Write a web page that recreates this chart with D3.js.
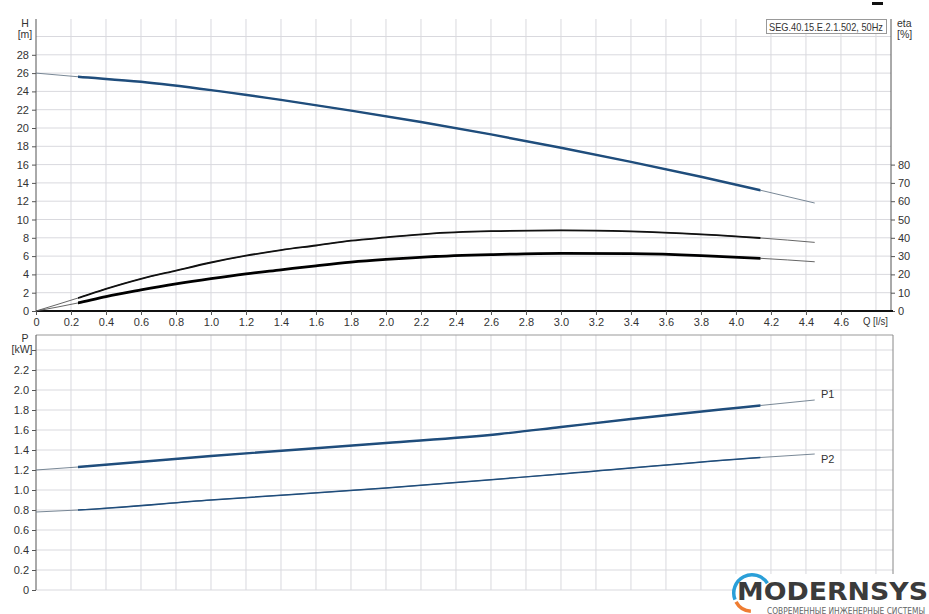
<!DOCTYPE html>
<html><head><meta charset="utf-8">
<script src="https://cdn.jsdelivr.net/npm/d3@7/dist/d3.min.js"></script>
<style>
body{margin:0;background:#fff;}
svg{display:block;font-family:"Liberation Sans",Arial,sans-serif;}
</style></head>
<body>
<svg id="c" width="929" height="614"></svg>
<script>
// ---- data ----
const qTicks = [0,0.2,0.4,0.6,0.8,1.0,1.2,1.4,1.6,1.8,2.0,2.2,2.4,2.6,2.8,3.0,3.2,3.4,3.6,3.8,4.0,4.2,4.4,4.6];
const hTicks = [0,2,4,6,8,10,12,14,16,18,20,22,24,26,28];
const etaTicks = [0,10,20,30,40,50,60,70,80];
const pTicks = [0,0.2,0.4,0.6,0.8,1.0,1.2,1.4,1.6,1.8,2.0,2.2];

const qH   = [0, 0.24, 0.6, 1.0, 1.4, 1.8, 2.2, 2.6, 3.0, 3.4, 3.8, 4.14, 4.45];
const hVal = [26.0, 25.6, 25.05, 24.14, 23.07, 21.9, 20.66, 19.3, 17.84, 16.3, 14.67, 13.2, 11.8];

const qEta  = [0, 0.24, 0.4, 0.6, 0.8, 1.0, 1.2, 1.4, 1.6, 1.8, 2.0, 2.24, 2.6, 3.0, 3.4, 3.8, 4.14, 4.45];
const eta1  = [0, 7.1, 12.1, 17.6, 22.1, 26.5, 30.2, 33.3, 35.8, 38.4, 40.2, 42.2, 43.6, 44.1, 43.5, 41.9, 39.9, 37.5];
const eta2  = [0, 4.4, 7.9, 11.5, 14.8, 17.7, 20.3, 22.5, 24.7, 26.7, 28.2, 29.6, 30.8, 31.5, 31.3, 30.3, 28.8, 26.9];

const qP1  = [0, 0.24, 1.0, 2.0, 2.65, 3.0, 3.4, 4.0, 4.14, 4.45];
const p1   = [1.20, 1.23, 1.34, 1.47, 1.56, 1.63, 1.71, 1.82, 1.845, 1.90];
const qP2  = [0, 0.24, 1.0, 2.0, 3.0, 4.14, 4.45];
const p2   = [0.78, 0.80, 0.90, 1.02, 1.16, 1.325, 1.36];

const qDutyMin = 0.24, qDutyMax = 4.14;
const title = "SEG.40.15.E.2.1.502, 50Hz";

// ---- layout ----
const svg = d3.select("#c");
const X0 = 36, XR = 891;
const x = d3.scaleLinear().domain([0, 4.886]).range([X0, XR]);
const yH = d3.scaleLinear().domain([0, 32]).range([311, 18.2]);
const yEta = d3.scaleLinear().domain([0, 160]).range([311, 18.2]);
const yP = d3.scaleLinear().domain([0, 2.55]).range([590, 335]);

const gridC = "#d9d9de", txtC = "#333", blue = "#1f4d7c";
const fs = "11px";

// top grid
const gTop = svg.append("g");
const gridQ = qTicks.concat([4.8]);
gTop.selectAll(".vg").data(gridQ.slice(1)).join("line")
  .attr("x1", d=>x(d)).attr("x2", d=>x(d)).attr("y1", 19).attr("y2", 311)
  .attr("stroke", gridC).attr("stroke-width", 1);
gTop.selectAll(".hg").data(hTicks.slice(1).concat([30])).join("line")
  .attr("x1", X0).attr("x2", XR).attr("y1", d=>yH(d)).attr("y2", d=>yH(d))
  .attr("stroke", gridC).attr("stroke-width", 1);

// bottom grid
const gBot = svg.append("g");
gBot.selectAll(".vg").data(gridQ.slice(1)).join("line")
  .attr("x1", d=>x(d)).attr("x2", d=>x(d)).attr("y1", 335).attr("y2", 590)
  .attr("stroke", gridC);
gBot.selectAll(".hg").data(pTicks.concat([2.4])).join("line")
  .attr("x1", X0).attr("x2", XR+2).attr("y1", d=>yP(d)).attr("y2", d=>yP(d))
  .attr("stroke", gridC);
gBot.append("line").attr("x1", X0).attr("x2", XR+2).attr("y1", 335).attr("y2", 335).attr("stroke", "#999");
gBot.append("line").attr("x1", XR+2).attr("x2", XR+2).attr("y1", 335).attr("y2", 590).attr("stroke", "#888");

// axes top
const axL = d3.axisLeft(yH).tickValues(hTicks).tickSize(4).tickFormat(d3.format("d"));
const gL = svg.append("g").attr("transform", `translate(${X0},0)`).call(axL);
gL.select(".domain").attr("d", `M-0,19V311`).attr("stroke", "#555");
const axR = d3.axisRight(yEta).tickValues(etaTicks).tickSize(4).tickFormat(d3.format("d"));
const gR = svg.append("g").attr("transform", `translate(${XR},0)`).call(axR);
gR.select(".domain").attr("d", `M0,19V311`).attr("stroke", "#555");
const axB = d3.axisBottom(x).tickValues(qTicks).tickSize(4)
  .tickFormat(d => d===0 ? "0" : d3.format(".1f")(d));
const gB = svg.append("g").attr("transform", `translate(0,311)`).call(axB);
gB.select(".domain").attr("d", `M${X0},0H${XR+2}`).attr("stroke", "#111").attr("stroke-width", 2);

// axes bottom chart
const axP = d3.axisLeft(yP).tickValues(pTicks.concat([2.4])).tickSize(4)
  .tickFormat(d => d===0 ? "0" : (d===2.4 ? "" : d3.format(".1f")(d)));
const gP = svg.append("g").attr("transform", `translate(${X0},0)`).call(axP);
gP.select(".domain").attr("d", `M0,335V590`).attr("stroke", "#555");

svg.selectAll(".tick text").attr("font-size", fs).attr("fill", txtC)
  .attr("font-family", "'Liberation Sans',Arial,sans-serif");
svg.selectAll(".tick line").attr("stroke", "#555");

// axis titles
function label(t, xx, yy, anchor, size){
  return svg.append("text").attr("x", xx).attr("y", yy).attr("text-anchor", anchor||"middle")
    .attr("font-size", size||fs).attr("fill", txtC).text(t);
}
label("H", 25, 26.5, "middle", "10.5px"); label("[m]", 25, 38, "middle", "10.5px");
label("eta", 897, 26.5, "start", "10.5px"); label("[%]", 897, 38, "start", "10.5px");
label("P", 25, 341.5, "middle", "10.5px"); label("[kW]", 22, 353, "middle", "10.5px");
label("Q [l/s]", 863, 325, "start").attr("textLength", 25).attr("lengthAdjust", "spacingAndGlyphs");

// title box
svg.append("rect").attr("x", 766.5).attr("y", 19.5).attr("width", 120).attr("height", 14)
  .attr("fill", "#fff").attr("stroke", "#999");
svg.append("text").attr("x", 769).attr("y", 30.5).attr("font-size", "10.5px").attr("fill", txtC)
  .attr("textLength", 114).attr("lengthAdjust", "spacingAndGlyphs").text(title);
svg.append("rect").attr("x", 872).attr("y", 2).attr("width", 11).attr("height", 3).attr("fill", "#111");

// curves
const defs = svg.append("defs");
defs.append("clipPath").attr("id", "duty").append("rect")
  .attr("x", x(qDutyMin)).attr("y", 0).attr("width", x(qDutyMax)-x(qDutyMin)).attr("height", 614);

function curve(qs, vs, ys, thinC, thickC, thickW){
  const data = qs.map((q,i)=>[q, vs[i]]);
  const line = d3.line().x(d=>x(d[0])).y(d=>ys(d[1])).curve(d3.curveMonotoneX);
  svg.append("path").attr("d", line(data)).attr("fill", "none")
    .attr("stroke", thinC).attr("stroke-width", 0.9);
  svg.append("path").attr("d", line(data)).attr("fill", "none")
    .attr("stroke", thickC).attr("stroke-width", thickW).attr("clip-path", "url(#duty)")
    .attr("stroke-linecap", "round");
}
curve(qH, hVal, yH, "#6a7a8a", blue, 2.4);
curve(qEta, eta1, yEta, "#555", "#111", 1.8);
curve(qEta, eta2, yEta, "#555", "#000", 2.8);
curve(qP1, p1, yP, "#6a7a8a", blue, 2.4);
curve(qP2, p2, yP, "#6a7a8a", blue, 1.5);

label("P1", 821, 398, "start"); label("P2", 821, 463, "start");

// logo
const lg = svg.append("g");
lg.append("rect").attr("x", 733).attr("y", 574).attr("width", 196).attr("height", 40).attr("fill", "#fff");
const arc = d3.arc().innerRadius(16.5).outerRadius(20);
lg.append("path").attr("transform", "translate(752,593)")
  .attr("d", arc({startAngle: -Math.PI*0.62, endAngle: Math.PI*0.32})).attr("fill", "#2a9fd8");
lg.append("path").attr("transform", "translate(752,593)")
  .attr("d", arc({startAngle: -Math.PI*0.98, endAngle: -Math.PI*0.66})).attr("fill", "#ef7d32");
lg.append("text").attr("x", 737).attr("y", 600).attr("font-family", "'DejaVu Sans',sans-serif")
  .attr("font-weight", "bold").attr("font-size", "24px").attr("fill", "#3b3b3b")
  .attr("textLength", 191).attr("lengthAdjust", "spacingAndGlyphs").text("MODERNSYS");
lg.append("text").attr("x", 767).attr("y", 613.5).attr("font-family", "'DejaVu Sans Condensed','DejaVu Sans',sans-serif")
  .attr("font-size", "8px").attr("fill", "#666")
  .attr("textLength", 158).attr("lengthAdjust", "spacingAndGlyphs").text("СОВРЕМЕННЫЕ ИНЖЕНЕРНЫЕ СИСТЕМЫ");
</script>
</body></html>
